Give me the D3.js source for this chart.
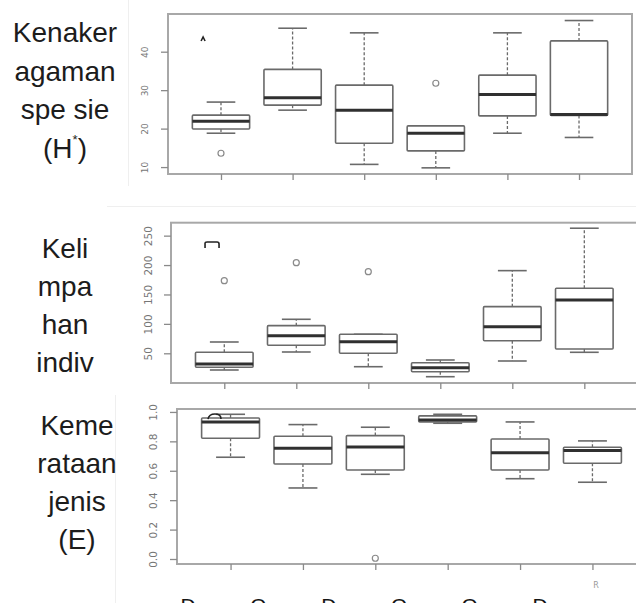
<!DOCTYPE html>
<html><head><meta charset="utf-8">
<script src="https://cdn.jsdelivr.net/npm/d3@7"></script>
<style>
html,body{margin:0;padding:0;background:#fff;overflow:hidden}
svg{display:block}
</style></head>
<body>
<script>
// ---------- data ----------
const categories = [1, 2, 3, 4, 5, 6];

// Panel 1: Kenakeragaman spesies (H')
const hLow  = [18.8, 24.8, 10.7,  9.8, 18.8, 17.7];
const hQ1   = [19.9, 26.1, 16.2, 14.2, 23.3, 23.4];
const hMed  = [21.9, 28.0, 24.8, 18.8, 28.9, 23.7];
const hQ3   = [23.5, 35.4, 31.3, 20.7, 33.9, 42.8];
const hHigh = [26.9, 46.1, 44.9, 20.7, 44.9, 48.1];
const hOut  = [[13.6], [], [], [31.8], [], []];
const hTicks = [10, 20, 30, 40];
const hLabel = ["Kenaker", "agaman", "spe sie", "(H*)"];

// Panel 2: Kelimpahan individu
const kLow  = [21.6, 52.2, 27.2, 10.2, 36.9, 51.7];
const kQ1   = [26.2, 63.6, 50.0, 18.7, 71.4, 57.3];
const kMed  = [31.8, 80.0, 69.7, 25.5, 95.2, 140.6];
const kQ3   = [51.7, 97.0, 82.3, 34.0, 129.3, 160.5];
const kHigh = [69.2, 107.8, 82.3, 38.6, 190.5, 262.6];
const kOut  = [[173.5], [204], [188.8], [], [], []];
const kTicks = [50, 100, 150, 200, 250];
const kLabel = ["Keli", "mpa", "han", "indiv"];

// Panel 3: Kemerataan jenis (E)
const eLow  = [0.692, 0.483, 0.576, 0.923, 0.546, 0.522];
const eQ1   = [0.821, 0.646, 0.605, 0.932, 0.605, 0.651];
const eMed  = [0.932, 0.753, 0.762, 0.946, 0.723, 0.737];
const eQ3   = [0.959, 0.835, 0.839, 0.973, 0.816, 0.760];
const eHigh = [0.984, 0.914, 0.896, 0.984, 0.932, 0.803];
const eOut  = [[], [], [0.005], [], [], []];
const eTicks = [0.0, 0.2, 0.4, 0.6, 0.8, 1.0];
const eLabel = ["Keme", "rataan", "jenis", "(E)"];

// stray marks seen in the picture (index position, value, kind)
const hMarks = [{i: 0.75, v: 43.3, kind: "caret"}];
const kMarks = [{i: 0.83, v: 239.3, kind: "bracket"}];
const eMarks = [{i: 0.785, v: 0.972, kind: "arc"}];

// partially visible bottom labels
const bottomLabels = ["D", "O", "D", "O", "O", "D"];

// ---------- layout ----------
const W = 636, H = 603;
const svg = d3.select("body").append("svg").attr("width", W).attr("height", H);

// faint seams from the composed picture
const seams = svg.append("g").attr("stroke", "#efefef").attr("stroke-width", 1);
seams.append("line").attr("x1", 128.5).attr("x2", 128.5).attr("y1", 0).attr("y2", 186);
seams.append("line").attr("x1", 107).attr("x2", W).attr("y1", 206.5).attr("y2", 206.5);
seams.append("line").attr("x1", 115.5).attr("x2", 115.5).attr("y1", 395).attr("y2", 603);

const panels = [
  {low: hLow, q1: hQ1, med: hMed, q3: hQ3, high: hHigh, out: hOut, ticks: hTicks, fmt: d3.format("d"),
   label: hLabel, marks: hMarks,
   left: 168, right: 632, top: 14, bottom: 174, ydom: [8.2, 49.8],
   labelCx: 65, base0: 42, step: 38.6, tickLabelX: 145, tickFont: 9},
  {low: kLow, q1: kQ1, med: kMed, q3: kQ3, high: kHigh, out: kOut, ticks: kTicks, fmt: d3.format("d"),
   label: kLabel, marks: kMarks,
   left: 171, right: 637.6, top: 222.7, bottom: 383, ydom: [-0.5, 272],
   labelCx: 65, base0: 258, step: 38, tickLabelX: 148, tickFont: 10.5},
  {low: eLow, q1: eQ1, med: eMed, q3: eQ3, high: eHigh, out: eOut, ticks: eTicks, fmt: d3.format(".1f"),
   label: eLabel, marks: eMarks,
   left: 177, right: 646, top: 409, bottom: 564, ydom: [-0.034, 1.02],
   labelCx: 77, base0: 435, step: 38, tickLabelX: 153, tickFont: 10.5}
];

const boxStroke = "#6a6a6a", medStroke = "#303030", frameStroke = "#a8a8a8";

panels.forEach(p => {
  const x = d3.scaleLinear().domain([0.26, 6.74]).range([p.left, p.right]);
  const y = d3.scaleLinear().domain(p.ydom).range([p.bottom, p.top]);
  const unit = x(1) - x(0);
  const bw = 0.8 * unit, sw = 0.4 * unit;
  const g = svg.append("g");

  // frame
  g.append("rect").attr("x", p.left).attr("y", p.top)
    .attr("width", p.right - p.left).attr("height", p.bottom - p.top)
    .attr("fill", "none").attr("stroke", frameStroke).attr("stroke-width", 2);

  // y axis
  const ya = g.append("g").attr("transform", `translate(${p.left},0)`)
    .call(d3.axisLeft(y).tickValues(p.ticks).tickFormat(p.fmt).tickSize(7).tickSizeOuter(0));
  ya.select(".domain").remove();
  ya.selectAll("line").attr("stroke", "#8a8a8a").attr("stroke-width", 1.3);
  ya.selectAll("text")
    .attr("x", null).attr("dy", "0.36em")
    .attr("text-anchor", "middle")
    .attr("transform", `translate(${p.tickLabelX - p.left},0) rotate(-90)`)
    .attr("fill", "#767676")
    .style("font-family", "'DejaVu Sans', sans-serif")
    .style("font-size", p.tickFont + "px");

  // x axis ticks (labels not legible)
  const xa = g.append("g").attr("transform", `translate(0,${p.bottom})`)
    .call(d3.axisBottom(x).tickValues(categories).tickFormat("").tickSize(6).tickSizeOuter(0));
  xa.select(".domain").remove();
  xa.selectAll("line").attr("stroke", "#8a8a8a").attr("stroke-width", 1.3);

  // boxes
  categories.forEach((c, k) => {
    const cx = x(c);
    const bg = g.append("g");
    // whiskers
    bg.append("line").attr("x1", cx).attr("x2", cx).attr("y1", y(p.q3[k])).attr("y2", y(p.high[k]))
      .attr("stroke", boxStroke).attr("stroke-width", 1.3).attr("stroke-dasharray", "3,2");
    bg.append("line").attr("x1", cx).attr("x2", cx).attr("y1", y(p.q1[k])).attr("y2", y(p.low[k]))
      .attr("stroke", boxStroke).attr("stroke-width", 1.3).attr("stroke-dasharray", "3,2");
    // staples
    [p.high[k], p.low[k]].forEach(v => {
      bg.append("line").attr("x1", cx - sw / 2).attr("x2", cx + sw / 2).attr("y1", y(v)).attr("y2", y(v))
        .attr("stroke", boxStroke).attr("stroke-width", 1.6);
    });
    // box
    bg.append("rect").attr("x", cx - bw / 2).attr("y", y(p.q3[k]))
      .attr("width", bw).attr("height", Math.max(0.5, y(p.q1[k]) - y(p.q3[k])))
      .attr("fill", "#fff").attr("stroke", boxStroke).attr("stroke-width", 1.6).attr("rx", 1);
    // median
    bg.append("line").attr("x1", cx - bw / 2).attr("x2", cx + bw / 2).attr("y1", y(p.med[k])).attr("y2", y(p.med[k]))
      .attr("stroke", medStroke).attr("stroke-width", 3);
    // outliers
    p.out[k].forEach(v => {
      bg.append("circle").attr("cx", cx).attr("cy", y(v)).attr("r", 3)
        .attr("fill", "none").attr("stroke", "#8a8a8a").attr("stroke-width", 1.2);
    });
  });

  // stray marks
  p.marks.forEach(m => {
    const mx = x(m.i), my = y(m.v);
    let d;
    if (m.kind === "caret") d = `M${mx - 2},${my + 2} L${mx},${my - 2} L${mx + 2},${my + 2}`;
    else if (m.kind === "bracket") d = `M${mx - 7},${my + 6} L${mx - 7},${my + 1} Q${mx - 7},${my} ${mx - 5},${my} L${mx + 5},${my} Q${mx + 7},${my} ${mx + 7},${my + 2} L${mx + 7},${my + 6}`;
    else d = `M${mx - 7},${my + 3} Q${mx - 6},${my - 2} ${mx},${my - 2} Q${mx + 6},${my - 2} ${mx + 6},${my + 3}`;
    g.append("path").attr("d", d).attr("fill", "none").attr("stroke", "#222").attr("stroke-width", 1.6);
  });

  // left label
  const t = svg.append("g")
    .style("font-family", "'Liberation Sans', Arial, sans-serif")
    .style("font-size", "28px").attr("fill", "#1c1c1c").attr("text-anchor", "middle");
  p.label.forEach((line, li) => {
    const te = t.append("text").attr("x", p.labelCx).attr("y", p.base0 + li * p.step);
    const m = line.match(/^(.*H)\*(.*)$/);
    if (m) {
      te.append("tspan").text(m[1]);
      te.append("tspan").text("*").attr("dy", -14).style("font-size", "13px");
      te.append("tspan").text(m[2]).attr("dy", 14);
    } else {
      te.text(line);
    }
  });
});

// partially visible bottom labels (cut by the picture's lower edge, as in the reference)
const bx = d3.scaleLinear().domain([1, 6]).range([188, 540]);
svg.append("g").style("font-family", "'Liberation Sans', Arial, sans-serif")
  .style("font-size", "21px").attr("fill", "#151515").attr("text-anchor", "middle")
  .selectAll("text").data(bottomLabels).join("text")
  .attr("x", (d, i) => bx(i + 1)).attr("y", 612.5).text(d => d);

// faint glyph at lower right
svg.append("text").attr("x", 596).attr("y", 588).attr("text-anchor", "middle")
  .style("font-family", "'DejaVu Sans', sans-serif").style("font-size", "8px")
  .attr("fill", "#9a9a9a").text("R");
</script>
</body></html>
